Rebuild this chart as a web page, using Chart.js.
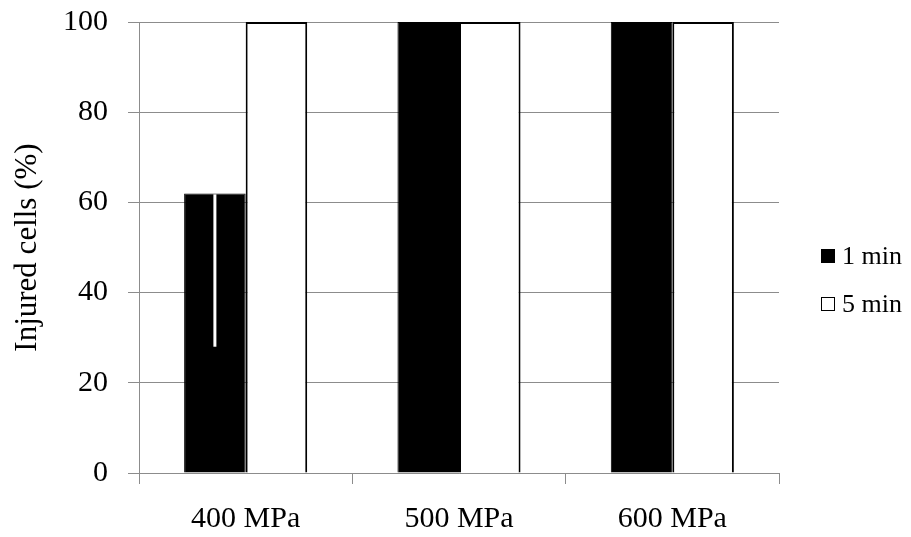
<!DOCTYPE html>
<html>
<head>
<meta charset="utf-8">
<script src="https://cdn.jsdelivr.net/npm/chart.js@4"></script>
<style>
html,body{margin:0;padding:0;background:#fff;}
#wrap{width:911px;height:537px;position:relative;}
</style>
</head>
<body>
<div id="wrap"><canvas id="c" width="911" height="537"></canvas></div>
<script>
const categories = ['400 MPa', '500 MPa', '600 MPa'];
const series1Label = '1 min';
const series2Label = '5 min';
const series1 = [62, 100, 100];
const series2 = [100, 100, 100];
const series1ErrDown = [34, 0, 0];
const yTicks = [0, 20, 40, 60, 80, 100];
const yTitle = 'Injured cells (%)';

const FONT = "'Liberation Serif', 'Times New Roman', serif";

const errPlugin = {
  id: 'errbars',
  afterDatasetsDraw(chart) {
    const ctx = chart.ctx;
    const meta = chart.getDatasetMeta(0);
    const y = chart.scales.y;
    ctx.save();
    ctx.strokeStyle = '#ffffff';
    ctx.lineWidth = 3;
    meta.data.forEach((bar, i) => {
      const e = series1ErrDown[i];
      if (!e) return;
      const x = bar.x;
      ctx.beginPath();
      ctx.moveTo(x, y.getPixelForValue(series1[i]) + 1);
      ctx.lineTo(x, y.getPixelForValue(series1[i] - e));
      ctx.stroke();
    });
    ctx.restore();
  }
};

const legendPlugin = {
  id: 'customLegend',
  afterDraw(chart) {
    const ctx = chart.ctx;
    const items = chart.data.datasets;
    const x0 = 821, ys = [256, 304];
    ctx.save();
    ctx.font = "26px " + FONT;
    ctx.textBaseline = 'middle';
    ctx.textAlign = 'left';
    items.forEach((ds, i) => {
      const yy = ys[i];
      ctx.fillStyle = ds.backgroundColor;
      ctx.fillRect(x0, yy - 7, 14, 14);
      ctx.strokeStyle = '#000';
      ctx.lineWidth = 1;
      ctx.strokeRect(x0 + 0.5, yy - 6.5, 13, 13);
      ctx.fillStyle = '#000';
      ctx.fillText(ds.label, x0 + 21, yy + 1);
    });
    ctx.restore();
  }
};

new Chart(document.getElementById('c'), {
  type: 'bar',
  data: {
    labels: categories,
    datasets: [
      { label: series1Label, data: series1, backgroundColor: '#000000', borderColor: '#000000', borderWidth: 1 },
      { label: series2Label, data: series2, backgroundColor: '#ffffff', borderColor: '#000000', borderWidth: 2 }
    ]
  },
  options: {
    responsive: false,
    animation: false,
    layout: { padding: { top: 0, right: 132, left: 0, bottom: 0 } },
    plugins: { legend: { display: false }, tooltip: { enabled: false } },
    datasets: { bar: { categoryPercentage: 0.577, barPercentage: 1.0 } },
    scales: {
      x: {
        afterFit(s) { s.height = 64; },
        grid: { offset: true, drawOnChartArea: false, drawTicks: true, tickLength: 11, color: '#8c8c8c', lineWidth: 1 },
        border: { color: '#8c8c8c', width: 1 },
        ticks: { font: { family: FONT, size: 30 }, color: '#000', padding: 17 }
      },
      y: {
        min: 0, max: 100,
        afterFit(s) { s.width = 139; s.paddingTop = 22; s.paddingBottom = 0; },
        afterBuildTicks(s) { s.ticks = yTicks.map(v => ({ value: v })); },
        grid: { color: '#8c8c8c', lineWidth: 1, tickLength: 11 },
        border: { color: '#8c8c8c', width: 1 },
        ticks: { font: { family: FONT, size: 30 }, color: '#000', padding: 20 },
        title: { display: true, text: yTitle, font: { family: FONT, size: 31 }, color: '#000', padding: { top: 9, bottom: 0 } }
      }
    }
  },
  plugins: [errPlugin, legendPlugin]
});
</script>
</body>
</html>
